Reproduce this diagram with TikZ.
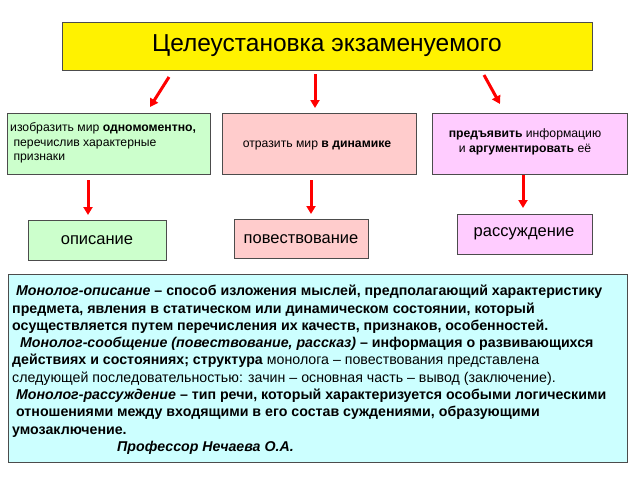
\documentclass[tikz,border=0pt]{standalone}
\usepackage{fontspec}
\setmainfont{Liberation Sans}
\usetikzlibrary{arrows.meta}
\definecolor{vio}{RGB}{255,204,255}
\definecolor{grn}{RGB}{204,255,204}
\definecolor{pnk}{RGB}{255,204,204}
\definecolor{cy}{RGB}{204,255,255}
\begin{document}
\begin{tikzpicture}[x=1pt,y=-1pt,
  box/.style={draw=black!70,line width=0.8pt},
  arr/.style={draw=red,line width=3pt,-{Triangle[width=9pt,length=8pt]}},
  lbl/.style={font=\fontsize{12.2}{14.5}\selectfont}]
\useasboundingbox[fill=white] (0,0) rectangle (640,480);
% title
\draw[box,fill=yellow] (62,22) rectangle (592,70);
\node (title) at (327,46) {\fontsize{24.5}{26}\selectfont Целеустановка экзаменуемого};
% upper boxes
\draw[box,fill=grn] (7,113) rectangle (210,174);
\node[lbl,align=left,anchor=west,inner sep=1pt] (g) at (9,143) {изобразить мир \textbf{одномоментно,}\\ \ перечислив характерные\\ \ признаки};
\draw[box,fill=pnk] (222,113) rectangle (416,174);
\node[lbl] (p) at (317,145) {отразить мир \textbf{в динамике}};
\draw[box,fill=vio] (432,113) rectangle (627,174);
\node[lbl,align=center] (v) at (525,142) {\textbf{предъявить} информацию\\ и \textbf{аргументировать} её};
% lower boxes
\draw[box,fill=grn] (28,220) rectangle (166,260);
\node[font=\fontsize{16.5}{18}\selectfont] (g2) at (97,240) {описание};
\draw[box,fill=pnk] (234,219) rectangle (368,258);
\node[font=\fontsize{16.5}{18}\selectfont] (p2) at (301,239) {повествование};
\draw[box,fill=vio] (457,214) rectangle (592,254);
\node[font=\fontsize{16.5}{18}\selectfont] (v2) at (524,234) {рассуждение};
% arrows
\coordinate (a1) at (169,77); \coordinate (b1) at (150,107);
\coordinate (a2) at (315,74); \coordinate (b2) at (315,108);
\coordinate (a3) at (484,75); \coordinate (b3) at (500,104);
\draw[arr] (a1) -- (b1); \draw[arr] (a2) -- (b2); \draw[arr] (a3) -- (b3);
\coordinate (c1) at (88,180); \coordinate (d1) at (88,215);
\coordinate (c2) at (311,180); \coordinate (d2) at (311,214);
\coordinate (c3) at (523,175); \coordinate (d3) at (523,208);
\draw[arr] (c1) -- (d1); \draw[arr] (c2) -- (d2); \draw[arr] (c3) -- (d3);
% text box
\draw[box,fill=cy] (8,274) rectangle (627,462);
\node[anchor=north west,align=left,inner sep=0pt,font=\fontsize{14.2}{17.3}\selectfont] (txt) at (12,285) {%
\ \textbf{\textit{Монолог-описание} – способ изложения мыслей, предполагающий характеристику}\\
\textbf{предмета, явления в статическом или динамическом состоянии, который}\\
\textbf{осуществляется путем перечисления их качеств, признаков, особенностей.}\\
\ \ \textbf{\textit{Монолог-сообщение (повествование, рассказ)} – информация о развивающихся}\\
\textbf{действиях и состояниях; структура} монолога – повествования представлена\\
следующей последовательностью: зачин – основная часть – вывод (заключение).\\
\ \textbf{\textit{Монолог-рассуждение} – тип речи, который характеризуется особыми логическими}\\
\ \textbf{отношениями между входящими в его состав суждениями, образующими}\\
\textbf{умозаключение.}\\
\hspace*{105pt}\textbf{\textit{Профессор Нечаева О.А.}}};
\end{tikzpicture}
\end{document}
